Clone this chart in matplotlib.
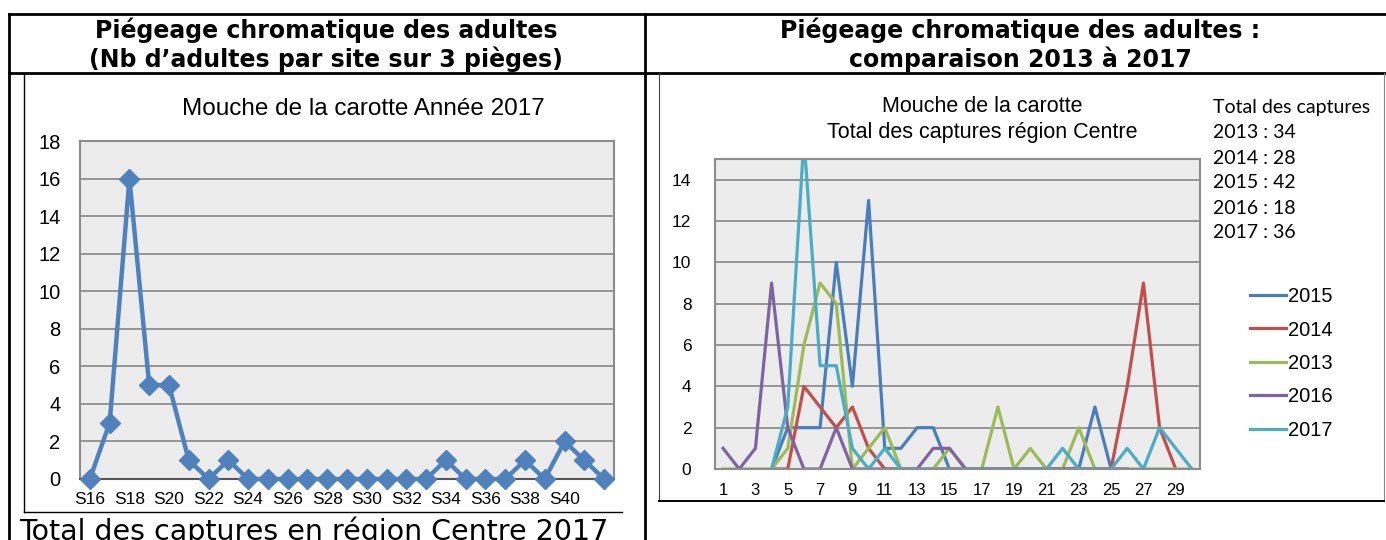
import matplotlib
matplotlib.use("Agg")
import matplotlib.pyplot as plt
import numpy as np

# left chart: weekly catches 2017
weeks_2017 = ["S%d" % s for s in range(16, 43)]
captures_2017 = [0, 3, 16, 5, 5, 1, 0, 1,
                 0, 0, 0, 0, 0, 0, 0, 0, 0, 0,
                 1, 0, 0, 0, 1, 0, 2, 1, 0]

# right chart: catches per week number, 2013 to 2017
semaines = list(range(1, 31))
s2015 = [None, None, None, 0, 2, 2, 2, 10, 4, 13, 1, 1, 2, 2, 0,
         0, 0, 0, 0, 0, 0, 0, 0, 3, 0, None, None, None, None, None]
s2014 = [None, None, None, 0, 0, 4, 3, 2, 3, 1, 0, 0, 0, 0, 0,
         0, 0, 0, 0, 0, 0, 0, 0, 0, 0, 4, 9, 2, 0, None]
s2013 = [0, 0, 0, 0, 1, 6, 9, 8, 0, 1, 2, 0, 0, 0, 1,
         0, 0, 3, 0, 1, 0, 0, 2, 0, 0, 0, 0, 0, 0, 0]
s2016 = [1, 0, 1, 9, 2, 0, 0, 2, 0, 0, 0, 0, 0, 1, 1,
         0, 0, 0, 0, 0, 0, 0, 0, 0, 0, 0, None, None, None, None]
s2017 = [None, None, None, 0, 3, 16, 5, 5, 1, 0, 1, 0, 0, 0, 0,
         0, 0, 0, 0, 0, 0, 1, 0, 0, 0, 1, 0, 2, 1, 0]
series_labels = ["2015", "2014", "2013", "2016", "2017"]
series_colors = ["#4A7EBB", "#C0504D", "#9BBB59", "#8064A2", "#4BACC6"]
totaux = ["2013 : 34", "2014 : 28", "2015 : 42", "2016 : 18", "2017 : 36"]

W, H = 1386, 540
def rect(x0, y0, x1, y1):
    return [x0 / W, 1 - y1 / H, (x1 - x0) / W, (y1 - y0) / H]

plt.rcParams['font.family'] = ['Liberation Sans', 'DejaVu Sans']
fig = plt.figure(figsize=(W / 100, H / 100), dpi=100)

# page layer in pixel coordinates (table, headers)
bg = fig.add_axes([0, 0, 1, 1])
bg.set_xlim(0, W)
bg.set_ylim(H, 0)
bg.axis("off")
for xs, ys in [((9, W), (14, 14)), ((9, W), (73, 73)),
               ((9, 9), (14, H)), ((645, 645), (14, H))]:
    bg.plot(xs, ys, color="black", lw=2, solid_capstyle="projecting")
bg.plot([24, 24], [73, 512], color="black", lw=1)
bg.plot([24, 622], [512, 512], color="black", lw=1)
bg.plot([659, 659], [73, 501], color="#444444", lw=0.8)
bg.plot([1384, 1384], [73, 501], color="#888888", lw=0.8)
bg.plot([659, 1384], [501, 501], color="black", lw=1.4)

hdr = dict(family="DejaVu Sans", weight="bold", fontsize=17, ha="center", va="center")
bg.text(326, 30, "Piégeage chromatique des adultes", **hdr)
bg.text(326, 59, "(Nb d\u2019adultes par site sur 3 pièges)", **hdr)
bg.text(1020, 30, "Piégeage chromatique des adultes :", **hdr)
bg.text(1020, 59, "comparaison 2013 à 2017", **hdr)
bg.text(314, 516, "Total des captures en région Centre 2017", family="DejaVu Sans",
        fontsize=20.5, ha="center", va="top")

# left chart
ax1 = fig.add_axes(rect(80, 141, 614, 479))
x1 = np.arange(len(weeks_2017))
ax1.set_facecolor("#ECECEC")
ax1.plot(x1, captures_2017, color="#4F81BD", lw=3.2, marker="D", ms=10,
         clip_on=False, zorder=3)
ax1.set_xlim(-0.5, len(weeks_2017) - 0.5)
ax1.set_ylim(0, 18)
ax1.set_yticks(range(0, 19, 2))
ax1.set_xticks(x1[:-1:2])
ax1.set_xticklabels(weeks_2017[:-1:2])
ax1.grid(axis="y", color="#868686", lw=1.2)
ax1.set_axisbelow(True)
ax1.tick_params(axis="y", length=0, pad=14, labelsize=14.5)
ax1.tick_params(axis="x", length=0, pad=9, labelsize=12.5)
for s in ax1.spines.values():
    s.set_color("#8C8C8C")
    s.set_linewidth(1.5)
ax1.spines["bottom"].set_color("#555555")
fig.text(363 / W, 1 - 109 / H, "Mouche de la carotte Année 2017", fontsize=17.5,
         ha="center", va="center")

# right chart
ax2 = fig.add_axes(rect(715, 159, 1200, 469))
ax2.set_facecolor("#ECECEC")
for vals, lab, col in zip([s2015, s2014, s2013, s2016, s2017], series_labels, series_colors):
    y = np.array([np.nan if v is None else v for v in vals], dtype=float)
    ax2.plot(semaines, y, color=col, lw=2.3, label=lab)
ax2.set_xlim(0.5, 30.5)
ax2.set_ylim(0, 15)
ax2.set_yticks(range(0, 15, 2))
ax2.set_xticks(semaines[::2])
ax2.grid(axis="y", color="#868686", lw=1.2)
ax2.set_axisbelow(True)
ax2.tick_params(axis="y", length=0, pad=17, labelsize=12.5)
ax2.tick_params(axis="x", length=0, pad=10, labelsize=12)
for s in ax2.spines.values():
    s.set_color("#8C8C8C")
    s.set_linewidth(1.5)
fig.text(982 / W, 1 - 107 / H, "Mouche de la carotte", fontsize=15.5, ha="center", va="center")
fig.text(982 / W, 1 - 133 / H, "Total des captures région Centre", fontsize=15.5,
         ha="center", va="center")

ax2.legend(loc="upper left", bbox_to_anchor=(1250 / W, 1 - 287 / H),
           bbox_transform=fig.transFigure, frameon=False, fontsize=14.5,
           handlelength=1.8, handletextpad=0.1, labelspacing=0.72, borderpad=0,
           borderaxespad=0)
bg.text(1213, 107, "Total des captures", family="Lato", fontsize=14, va="center")
for k, t in enumerate(totaux):
    bg.text(1213, 133 + 25 * k, t, family="Lato", fontsize=14, va="center")

fig.savefig("out.png", dpi=100)
